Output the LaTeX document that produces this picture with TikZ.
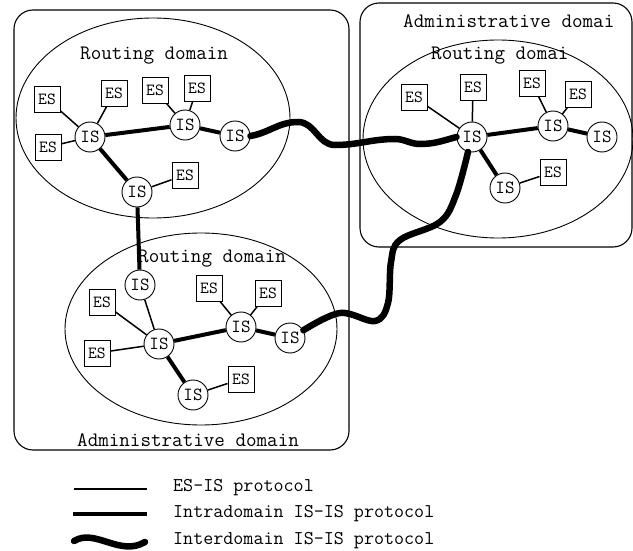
\documentclass[tikz,border=0pt]{standalone}
\usepackage{fontspec}
\newfontfamily\cour{Latin Modern Mono}
\begin{document}
\begin{tikzpicture}[x=1pt,y=-1pt,
  es/.style={draw, line width=0.9pt, minimum width=26pt, minimum height=26pt, inner sep=0pt, font=\cour\fontsize{17}{18}\selectfont},
  is/.style={draw, circle, line width=0.9pt, minimum size=30pt, inner sep=0pt, font=\cour\fontsize{18.5}{19}\selectfont},
  esis/.style={line width=1.5pt},
  intra/.style={line width=4pt},
  inter/.style={line width=6.5pt, line cap=round},
  adm/.style={draw, line width=1.1pt, rounded corners=19pt},
  rdom/.style={draw, line width=0.9pt},
  lbl/.style={font=\cour\fontsize{20.5}{22}\selectfont, inner sep=0pt, anchor=west},
  leg/.style={font=\cour\fontsize{19.5}{21}\selectfont, inner sep=0pt, anchor=west}]
\useasboundingbox (0,0) rectangle (633,551);
% administrative domains
\draw[adm] (14,10) rectangle (349,450);
\draw[adm] (360,3) rectangle (632,247);
% routing domains
\draw[rdom] (153,118) ellipse [x radius=137, y radius=100];
\draw[rdom] (498,139) ellipse [x radius=135, y radius=99];
\draw[rdom] (201,329) ellipse [x radius=136, y radius=96];
% labels
\node[lbl] (adr) at (403,21) {Administrative domai};
\node[lbl] (rdr) at (431,56) {Routing domai};
\node[lbl] (rdt) at (80,56) {Routing domain};
\node[lbl] (rdb) at (138,259) {Routing domain};
\node[lbl] (adl) at (77,440) {Administrative domain};
% top-left routing domain
\node[is] (t1) at (90,137) {IS};
\node[is] (t2) at (185,125) {IS};
\node[is] (t3) at (235,136) {IS};
\node[is] (t4) at (137,192) {IS};
\node[es] (te1) at (47,99) {ES};
\node[es] (te2) at (114,93) {ES};
\node[es] (te3) at (48,147) {ES};
\node[es] (te4) at (155,90) {ES};
\node[es] (te5) at (197,88) {ES};
\node[es] (te6) at (185,175) {ES};
\draw[esis] (t1) -- (te1);
\draw[esis] (t1) -- (te2);
\draw[esis] (t1) -- (te3);
\draw[esis] (t2) -- (te4);
\draw[esis] (t2) -- (te5);
\draw[esis] (t4) -- (te6);
\draw[intra] (t1) -- (t2);
\draw[intra] (t2) -- (t3);
\draw[intra] (t1) -- (t4);
% right routing domain
\node[is] (rh) at (472,137) {IS};
\node[is] (r2) at (553,126) {IS};
\node[is] (r3) at (602,137) {IS};
\node[is] (r4) at (505,188) {IS};
\node[es] (re1) at (414,97) {ES};
\node[es] (re2) at (473,87) {ES};
\node[es] (re3) at (532,83) {ES};
\node[es] (re4) at (578,94) {ES};
\node[es] (re5) at (553,172) {ES};
\draw[esis] (rh) -- (re1);
\draw[esis] (rh) -- (re2);
\draw[esis] (r2) -- (re3);
\draw[esis] (r2) -- (re4);
\draw[esis] (r4) -- (re5);
\draw[intra] (rh) -- (r2);
\draw[intra] (r2) -- (r3);
\draw[intra] (rh) -- (r4);
% bottom routing domain
\node[is] (b1) at (140,285) {IS};
\node[is] (bh) at (159,344) {IS};
\node[is] (b3) at (241,327) {IS};
\node[is] (b4) at (290,338) {IS};
\node[is] (b5) at (193,395) {IS};
\node[es] (be1) at (102,302) {ES};
\node[es] (be2) at (97,353) {ES};
\node[es] (be3) at (209,288) {ES};
\node[es] (be4) at (268,293) {ES};
\node[es] (be5) at (241,379) {ES};
\draw[esis] (b1) -- (bh);
\draw[esis] (bh) -- (be1);
\draw[esis] (bh) -- (be2);
\draw[esis] (b3) -- (be3);
\draw[esis] (b3) -- (be4);
\draw[esis] (b5) -- (be5);
\draw[intra] (bh) -- (b3);
\draw[intra] (b3) -- (b4);
\draw[intra] (bh) -- (b5);
% link between routing domains
\draw[intra] (t4) -- (b1);
% interdomain links
\draw[inter] (t3.east) to[out=10,in=180] (298,122) to[out=0,in=180] (335,145)
  to[out=0,in=180] (395,139) to[out=0,in=180] (420,144) to[out=0,in=195] (rh.west);
\draw[inter] plot[smooth, tension=0.6] coordinates {(rh.-105) (456,195) (440,222) (400,240) (391,262) (388,303) (375,321) (340,313) (b4.30)};
% legend
\coordinate (l1a) at (74,489);
\coordinate (l1b) at (147,489);
\coordinate (l2a) at (73,514);
\coordinate (l2b) at (147,514);
\coordinate (l3a) at (74,541);
\coordinate (l3b) at (145,542);
\draw[esis] (l1a) -- (l1b);
\draw[intra] (l2a) -- (l2b);
\draw[inter] (l3a) .. controls (95,528) and (120,557) .. (l3b);
\node[leg] (t1l) at (173,488) {ES-IS protocol};
\node[leg] (t2l) at (173,514) {Intradomain IS-IS protocol};
\node[leg] (t3l) at (173,541) {Interdomain IS-IS protocol};
\end{tikzpicture}
\end{document}
